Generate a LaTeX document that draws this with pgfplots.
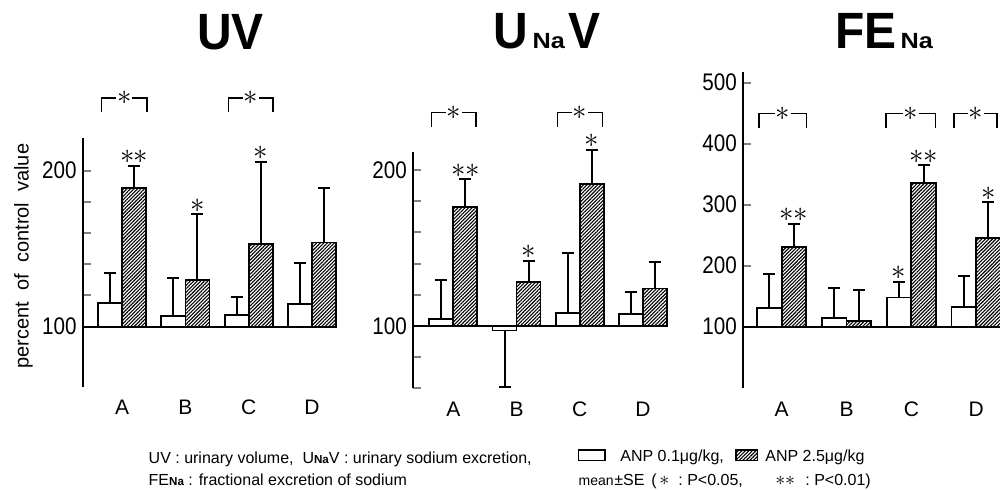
\documentclass[border=0pt]{standalone}
\usepackage{fontspec}
\setmainfont{Liberation Sans}
\newfontfamily\condfont{Liberation Sans}[FakeStretch=0.86]
\newfontfamily\titlefam{Liberation Sans}[FakeStretch=0.94]
\newfontfamily\widefam{Liberation Sans}[FakeStretch=1.15]
\usepackage{pgfplots}
\pgfplotsset{compat=1.18}
\usetikzlibrary{patterns.meta}

\tikzset{hatch/.style={pattern={Lines[angle=45,distance=1.25pt,line width=0.55pt]}}}

\pgfplotsset{
  panel/.style={
    scale only axis, clip=false,
    axis lines=left,
    axis line style={-},
    x axis line style={draw=none},
    y axis line style={line width=1.1pt},
    y coord trafo/.code={\pgfmathparse{##1-100}},
    y coord inv trafo/.code={\pgfmathparse{##1+100}},
    xtick={0,1,2,3}, xticklabels={A,B,C,D},
    xtick style={draw=none},
    xticklabel style={anchor=center, yshift=-10.5pt, font=\fontsize{10.5}{11}\selectfont},
    ytick style={line width=1pt},
    major tick length=4pt,
    tick align=inside,
    ytick pos=left,
    yticklabel style={font=\condfont\fontsize{12}{12}\selectfont, inner sep=0pt, xshift=-3pt},
  },
  errs/.style={error bars/y dir=plus, error bars/y explicit, error bars/error mark=-,
     error bars/error bar style={line width=1pt},
     error bars/error mark options={rotate=90, line width=1pt, mark size=3pt}},
  wbar/.style={ybar, bar width=0.38, bar shift=0, draw=black, fill=white, line width=0.9pt, errs},
  hbar/.style={ybar, bar width=0.38, bar shift=0, draw=black, hatch, line width=0.9pt, errs},
  stars/.style={draw=none, mark=none, nodes near coords, point meta=explicit symbolic,
     nodes near coords style={anchor=south, inner sep=0.8pt, font=\fontsize{14}{15}\selectfont}},
  base/.style={line width=1pt, black, mark=none},
}

\newcommand{\brk}[4]{%
  \draw[line width=0.6pt] (#1,#4) -- (#1,#3) -- (#2,#3) -- (#2,#4);
  \node[fill=white, inner sep=0.4pt, font=\fontsize{15}{15}\selectfont] at ({(#1+#2)/2},#3) {$\ast$};}
\newcommand{\sna}{\raisebox{-0.2pt}{\fontsize{5.8}{6}\selectfont\bfseries Na}}
\newcommand{\dst}{${\ast}\mkern-0.3mu{\ast}$}

\begin{document}
\begin{tikzpicture}
\useasboundingbox (0,0) rectangle (500pt,244.5pt);

% ---------------- UV ----------------
\begin{axis}[panel, at={(41.5pt,51.15pt)}, anchor=south west,
  width=127.7pt, height=124.4pt, xmin=-0.62, xmax=3.42, ymin=61.5, ymax=221,
  ytick={100,120,140,160,180,200}, yticklabels={100,,,,,200},
  ylabel={percent\ \ of\ \ control\ \ value},
  ylabel style={at={(axis description cs:-0.233,0.525)}, anchor=center, font=\fontsize{10}{10}\selectfont}]
\addplot[wbar] coordinates {(-0.19,115) +- (0,19.6) (0.81,106.8) +- (0,24.2) (1.81,107.3) +- (0,11.5) (2.81,114.5) +- (0,26.5)};
\addplot[hbar] coordinates {(0.19,188.7) +- (0,14.3) (1.19,129.7) +- (0,42.3) (2.19,153.2) +- (0,52.4) (3.19,154) +- (0,34.9)};
\addplot[stars] coordinates {(0.19,203) [\dst] (1.19,172) [$\ast$] (2.19,205.6) [$\ast$]};
\addplot[base] coordinates {(-0.62,100) (3.38,100)};
\end{axis}

% ---------------- UNaV ----------------
\begin{axis}[panel, at={(206.65pt,50.35pt)}, anchor=south west,
  width=127.45pt, height=118.3pt, xmin=-0.633, xmax=3.40, ymin=60, ymax=211.7,
  ytick={60,80,100,120,140,160,180,200}, yticklabels={,,100,,,,,200}]
\addplot[wbar, error bars/y dir=both] coordinates {(-0.19,104.3) += (0,25.2) (0.81,97) -= (0,36) (1.81,108.5) += (0,38.3) (2.81,107.7) += (0,14.3)};
\addplot[hbar] coordinates {(0.19,176) +- (0,18) (1.19,128.2) +- (0,13.7) (2.19,190.8) +- (0,22) (3.19,124) +- (0,16.8)};
\addplot[stars] coordinates {(0.19,194) [\dst] (1.19,141.9) [$\ast$] (2.19,212.8) [$\ast$]};
\addplot[base] coordinates {(-0.633,100) (3.40,100)};
\end{axis}

% ---------------- FENa ----------------
\begin{axis}[panel, at={(371.65pt,50.35pt)}, anchor=south west,
  width=128.1pt, height=158.3pt, xmin=-0.593, xmax=3.36, ymin=-1, ymax=518,
  ytick={100,200,300,400,500}, yticklabels={100,200,300,400,500}]
\addplot[wbar] coordinates {(-0.19,131) +- (0,55) (0.81,114) +- (0,50) (1.81,148) +- (0,26) (2.81,132.8) +- (0,50.8)};
\addplot[hbar] coordinates {(0.19,230.6) +- (0,38.4) (1.19,109) +- (0,51) (2.19,335) +- (0,29.5) (3.19,245) +- (0,59)};
\addplot[stars] coordinates {(0.19,269) [\dst] (1.81,174) [$\ast$] (2.19,364.5) [\dst] (3.19,304) [$\ast$]};
\addplot[base] coordinates {(-0.593,100) (3.36,100)};
\end{axis}

% ---------------- annotations in pixel coordinates ----------------
\begin{scope}[x=0.5pt, y=-0.5pt, yshift=244.5pt]
  % titles
  \node[anchor=base west, inner sep=0] at (196.7,49.3) {\titlefam\bfseries\fontsize{25.5}{28}\selectfont UV};
  \node[anchor=base west, inner sep=0] at (492.7,48.3) {\titlefam\bfseries\fontsize{25.5}{28}\selectfont U\hspace{2.5pt}{\widefam\fontsize{11}{12}\selectfont Na}\hspace{1.5pt}V};
  \node[anchor=base west, inner sep=0] at (835,48.3) {\titlefam\bfseries\fontsize{25.5}{28}\selectfont FE\hspace{2pt}{\widefam\fontsize{11}{12}\selectfont Na}};
  % brackets
  \brk{101.7}{147}{98}{112}
  \brk{228.7}{273}{98}{112}
  \brk{431.7}{476}{112.7}{126.7}
  \brk{557.3}{602.3}{112.7}{126.7}
  \brk{759}{806.3}{113.3}{127.7}
  \brk{886}{935.7}{113.3}{127.7}
  \brk{954}{997}{113.3}{127.7}
  % bottom notes
  \node[anchor=base west, inner sep=0, font=\fontsize{8}{9}\selectfont] at (148.3,463.3)
    {UV : urinary volume,\ \ U\sna V : urinary sodium excretion,};
  \node[anchor=base west, inner sep=0, font=\fontsize{8}{9}\selectfont] at (148.3,485)
    {FE\sna\ : fractional excretion of sodium};
  \draw[line width=0.6pt, fill=white] (578.3,450) rectangle (605,460.7);
  \draw[line width=0.6pt, hatch] (736,450) rectangle (757.7,460.7);
  \node[anchor=base west, inner sep=0, font=\fontsize{8}{9}\selectfont] at (620,461) {ANP 0.1μg/kg,};
  \node[anchor=base west, inner sep=0, font=\fontsize{8}{9}\selectfont] at (765,461) {ANP 2.5μg/kg};
  \begin{scope}[every node/.style={anchor=base west, inner sep=0, font=\fontsize{8}{9}\selectfont}]
    \node at (578.3,485) {\fontsize{7}{8}\selectfont mean};
    \node at (614,485) {±SE};
    \node at (651,485) {(};
    \node at (659,485) {\fontsize{10}{10}\selectfont$\ast$};
    \node at (678,485) {:\ P<0.05,};
    \node at (775,485) {\fontsize{10}{10}\selectfont${\ast}\mkern-0.3mu{\ast}$};
    \node at (805,485) {:\ P<0.01)};
  \end{scope}
\end{scope}
\end{tikzpicture}
\end{document}
